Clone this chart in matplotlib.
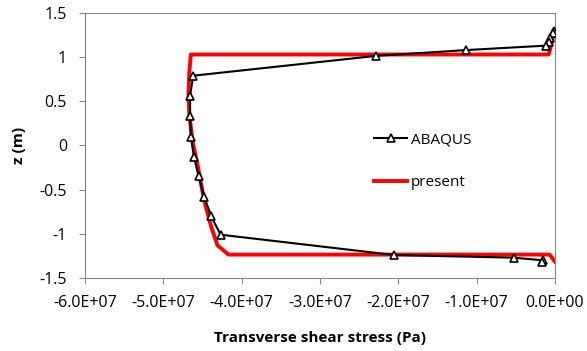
import matplotlib.pyplot as plt
import numpy as np

# ABAQUS reference solution (transverse shear stress through thickness)
abaqus_z = [1.30, 1.27, 1.22, 1.17, 1.13, 1.08, 1.015, 0.79, 0.56, 0.33, 0.10,
            -0.13, -0.35, -0.58, -0.80, -1.01, -1.24, -1.27, -1.30, -1.315]
abaqus_tau = [-0.01e7, -0.03e7, -0.06e7, -0.08e7, -0.12e7, -1.14e7, -2.28e7,
              -4.62e7, -4.66e7, -4.66e7, -4.65e7, -4.61e7, -4.55e7, -4.48e7,
              -4.39e7, -4.27e7, -2.05e7, -0.53e7, -0.15e7, -0.17e7]

# present model
present_z = [1.31, 1.10, 1.03, 1.03, 0.82, 0.59, 0.36, 0.06, -0.24, -0.62,
             -0.92, -1.13, -1.235, -1.235, -1.316]
present_tau = [0.0, -0.06e7, -0.08e7, -4.65e7, -4.67e7, -4.68e7, -4.67e7,
               -4.63e7, -4.56e7, -4.48e7, -4.39e7, -4.31e7, -4.17e7, -0.07e7, 0.0]

xticks = np.arange(-6e7, 0.5e7, 1e7)
yticks = [-1.5, -1, -0.5, 0, 0.5, 1, 1.5]

plt.rcParams['font.family'] = ['Open Sans', 'DejaVu Sans']

fig = plt.figure(figsize=(5.87, 3.51), dpi=100)
ax = fig.add_axes([0.145, 0.208, 0.8005, 0.755])

ax.plot(abaqus_tau, abaqus_z, color='black', lw=1.5, marker='^', ms=5.5,
        mfc='white', mec='black', mew=1.2, label='ABAQUS', zorder=3)
ax.plot(present_tau, present_z, color='#ff0000', lw=2.8, label='present', zorder=2)

ax.set_xlim(-6e7, 0)
ax.set_ylim(-1.5, 1.5)
ax.set_xticks(xticks)
ax.set_xticklabels(['%.1E' % v if v != 0 else '0.0E+00' for v in xticks])
ax.set_yticks(yticks)
ax.set_yticklabels(['%g' % v for v in yticks])
ax.tick_params(direction='out', length=4, color='#868686', labelsize=11.5)
ax.tick_params(axis='x', pad=8)
ax.tick_params(axis='y', pad=9)

for s in ax.spines.values():
    s.set_color('#868686')

ax.set_xlabel('Transverse shear stress (Pa)', fontsize=11, fontweight='bold', labelpad=15)
ax.set_ylabel('z (m)', fontsize=11, fontweight='bold', labelpad=10)

ax.legend(loc='center left', bbox_to_anchor=(0.585, 0.44), frameon=False,
          fontsize=11, handlelength=2.2, handletextpad=0.25, labelspacing=1.8)

fig.savefig('out.png', dpi=100)
